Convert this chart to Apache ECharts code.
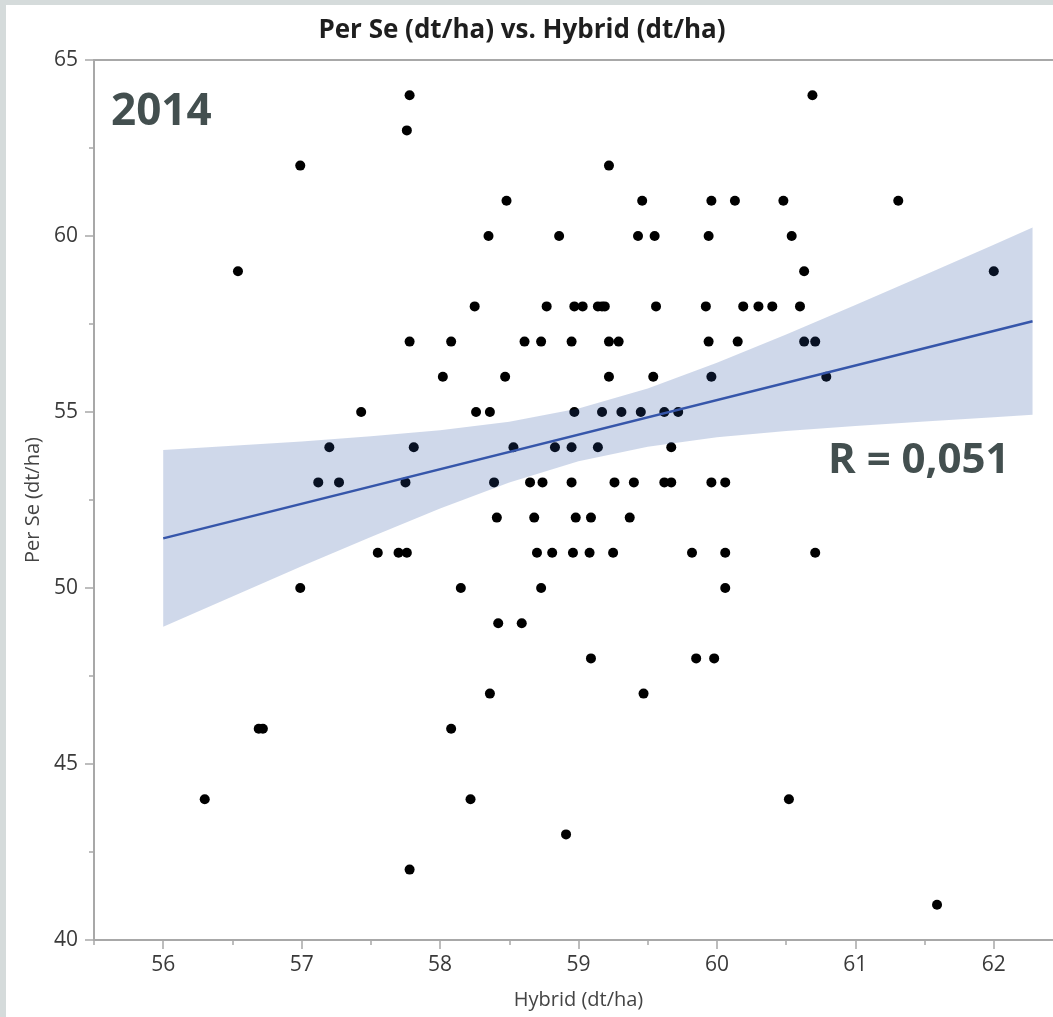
<!DOCTYPE html>
<html><head><meta charset="utf-8">
<script src="https://cdn.jsdelivr.net/npm/echarts@6/dist/echarts.min.js"></script>
<style>
html,body{margin:0;padding:0;background:#d5dbdb;width:1053px;height:1017px;overflow:hidden}
#c{position:absolute;left:6px;top:5px;width:1057px;height:1012px;background:#fff}
</style></head><body><div id="c"></div>
<script>
// Hybrid (x) and Per Se (y) values, grouped by Per Se row
const hybrid = [
  57.78, 60.69,
  57.76,
  56.99, 59.22,
  58.48, 59.46, 59.96, 60.13, 60.48, 61.31,
  58.35, 58.86, 59.43, 59.55, 59.94, 60.54,
  56.54, 60.63, 62.00,
  58.25, 58.77, 58.97, 59.03, 59.14, 59.17, 59.19, 59.56, 59.92, 60.19, 60.30, 60.40, 60.60,
  57.78, 58.08, 58.61, 58.73, 58.95, 59.22, 59.29, 59.94, 60.15, 60.63, 60.71,
  58.02, 58.47, 59.22, 59.54, 59.96, 60.79,
  57.43, 58.26, 58.36, 58.97, 59.17, 59.31, 59.45, 59.62, 59.72,
  57.20, 57.81, 58.53, 58.83, 58.95, 59.14, 59.67,
  57.12, 57.27, 57.75, 58.39, 58.65, 58.74, 58.95, 59.26, 59.40, 59.62, 59.67, 59.96, 60.06,
  58.41, 58.68, 58.98, 59.09, 59.37,
  57.55, 57.70, 57.76, 58.70, 58.81, 58.96, 59.08, 59.25, 59.82, 60.06, 60.71,
  56.99, 58.15, 58.73, 60.06,
  58.42, 58.59,
  59.09, 59.85, 59.98,
  58.36, 59.47,
  56.69, 56.72, 58.08,
  56.30, 58.22, 60.52,
  58.91,
  57.78,
  61.59
];
const perSe = [
  64, 64,
  63,
  62, 62,
  61, 61, 61, 61, 61, 61,
  60, 60, 60, 60, 60, 60,
  59, 59, 59,
  58, 58, 58, 58, 58, 58, 58, 58, 58, 58, 58, 58, 58,
  57, 57, 57, 57, 57, 57, 57, 57, 57, 57, 57,
  56, 56, 56, 56, 56, 56,
  55, 55, 55, 55, 55, 55, 55, 55, 55,
  54, 54, 54, 54, 54, 54, 54,
  53, 53, 53, 53, 53, 53, 53, 53, 53, 53, 53, 53, 53,
  52, 52, 52, 52, 52,
  51, 51, 51, 51, 51, 51, 51, 51, 51, 51, 51,
  50, 50, 50, 50,
  49, 49,
  48, 48, 48,
  47, 47,
  46, 46, 46,
  44, 44, 44,
  43,
  42,
  41
];
// fit line end points and confidence band
const fitX = [56.0, 62.28];
const fitY = [51.41, 57.58];
const bandX =     [56.0, 56.5, 57.0, 57.5, 58.0, 58.5, 59.0, 59.5, 60.0, 60.5, 61.0, 61.5, 62.0, 62.28];
const bandUpper = [53.92, 54.04, 54.16, 54.31, 54.48, 54.72, 55.10, 55.67, 56.40, 57.20, 58.04, 58.89, 59.75, 60.24];
const bandLower = [48.90, 49.76, 50.62, 51.45, 52.26, 53.00, 53.60, 54.01, 54.28, 54.46, 54.60, 54.73, 54.85, 54.92];
const xTicks = [56, 57, 58, 59, 60, 61, 62];
const xMinorTicks = [55.5, 56.5, 57.5, 58.5, 59.5, 60.5, 61.5, 62.5];

const chart = echarts.init(document.getElementById('c'), null, {renderer: 'canvas'});
const axisGray = '#a8a8a8';
const labelColor = '#3a3a3a';
const FONT = '"Open Sans", "Noto Sans", sans-serif';

const option = {
  animation: false,
  backgroundColor: '#ffffff',
  grid: {left: 88, right: 0, top: 55, bottom: 77, containLabel: false},
  xAxis: [
    {
      type: 'value', min: 55.5, max: 62.5,
      axisLine: {show: true, lineStyle: {color: axisGray, width: 2}},
      axisTick: {show: true, customValues: xTicks, length: 9, lineStyle: {color: axisGray, width: 1.5}},
      axisLabel: {show: true, customValues: xTicks, margin: 15, fontSize: 21, color: labelColor, fontFamily: FONT},
      splitLine: {show: false},
      name: 'Hybrid (dt/ha)', nameLocation: 'middle', nameGap: 50,
      nameTextStyle: {fontSize: 20, color: '#444', fontFamily: FONT}
    },
    {
      type: 'value', min: 55.5, max: 62.5, position: 'bottom',
      axisLine: {show: false},
      axisTick: {show: true, customValues: xMinorTicks, length: 5, lineStyle: {color: axisGray, width: 1.5}},
      axisLabel: {show: false}, splitLine: {show: false}
    },
    {
      type: 'value', min: 55.5, max: 62.5, position: 'top',
      axisLine: {show: true, lineStyle: {color: axisGray, width: 2}},
      axisTick: {show: false}, axisLabel: {show: false}, splitLine: {show: false}
    }
  ],
  yAxis: {
    type: 'value', min: 40, max: 65, interval: 5,
    axisLine: {show: true, lineStyle: {color: axisGray, width: 2}},
    axisTick: {show: true, length: 9, lineStyle: {color: axisGray, width: 1.5}},
    minorTick: {show: true, splitNumber: 2, length: 5, lineStyle: {color: axisGray, width: 1.5}},
    axisLabel: {margin: 16, fontSize: 21, color: labelColor, fontFamily: FONT},
    splitLine: {show: false},
    name: 'Per Se (dt/ha)', nameLocation: 'middle', nameGap: 51, nameRotate: 90,
    nameTextStyle: {fontSize: 20, color: '#444', fontFamily: FONT}
  },
  graphic: [
    {type: 'text', x: 516, y: 26, style: {text: 'Per Se (dt/ha) vs. Hybrid (dt/ha)', font: 'bold 26px ' + FONT, fill: '#1e1e1e', align: 'center', verticalAlign: 'middle'}},
    {type: 'text', x: 105, y: 107, z: 10, style: {text: '2014', font: 'bold 44px ' + FONT, fill: '#434f4f', align: 'left', verticalAlign: 'middle'}},
    {type: 'text', x: 822, y: 456, z: 10, style: {text: 'R = 0,051', font: 'bold 42px ' + FONT, fill: '#434f4f', align: 'left', verticalAlign: 'middle'}}
  ],
  series: [
    {
      type: 'scatter', xAxisIndex: 0, z: 2,
      symbol: 'circle', symbolSize: 10,
      itemStyle: {color: '#000000', opacity: 1},
      data: hybrid.map((x, i) => [x, perSe[i]])
    },
    {
      type: 'custom', xAxisIndex: 0, z: 3, silent: true,
      data: bandX.map((x, i) => [x, bandLower[i], bandUpper[i]]),
      encode: {x: 0, y: [1, 2]},
      renderItem: function (params, api) {
        if (params.dataIndex !== 0) return null;
        const pts = [];
        for (let i = 0; i < bandX.length; i++) pts.push(api.coord([bandX[i], bandUpper[i]]));
        for (let i = bandX.length - 1; i >= 0; i--) pts.push(api.coord([bandX[i], bandLower[i]]));
        return {type: 'polygon', shape: {points: pts}, style: {fill: 'rgba(36,77,159,0.22)'}};
      }
    },
    {
      type: 'line', xAxisIndex: 0, z: 4, showSymbol: false, silent: true,
      lineStyle: {color: '#3656aa', width: 2.5},
      data: fitX.map((x, i) => [x, fitY[i]])
    }
  ]
};
chart.setOption(option);
</script></body></html>
